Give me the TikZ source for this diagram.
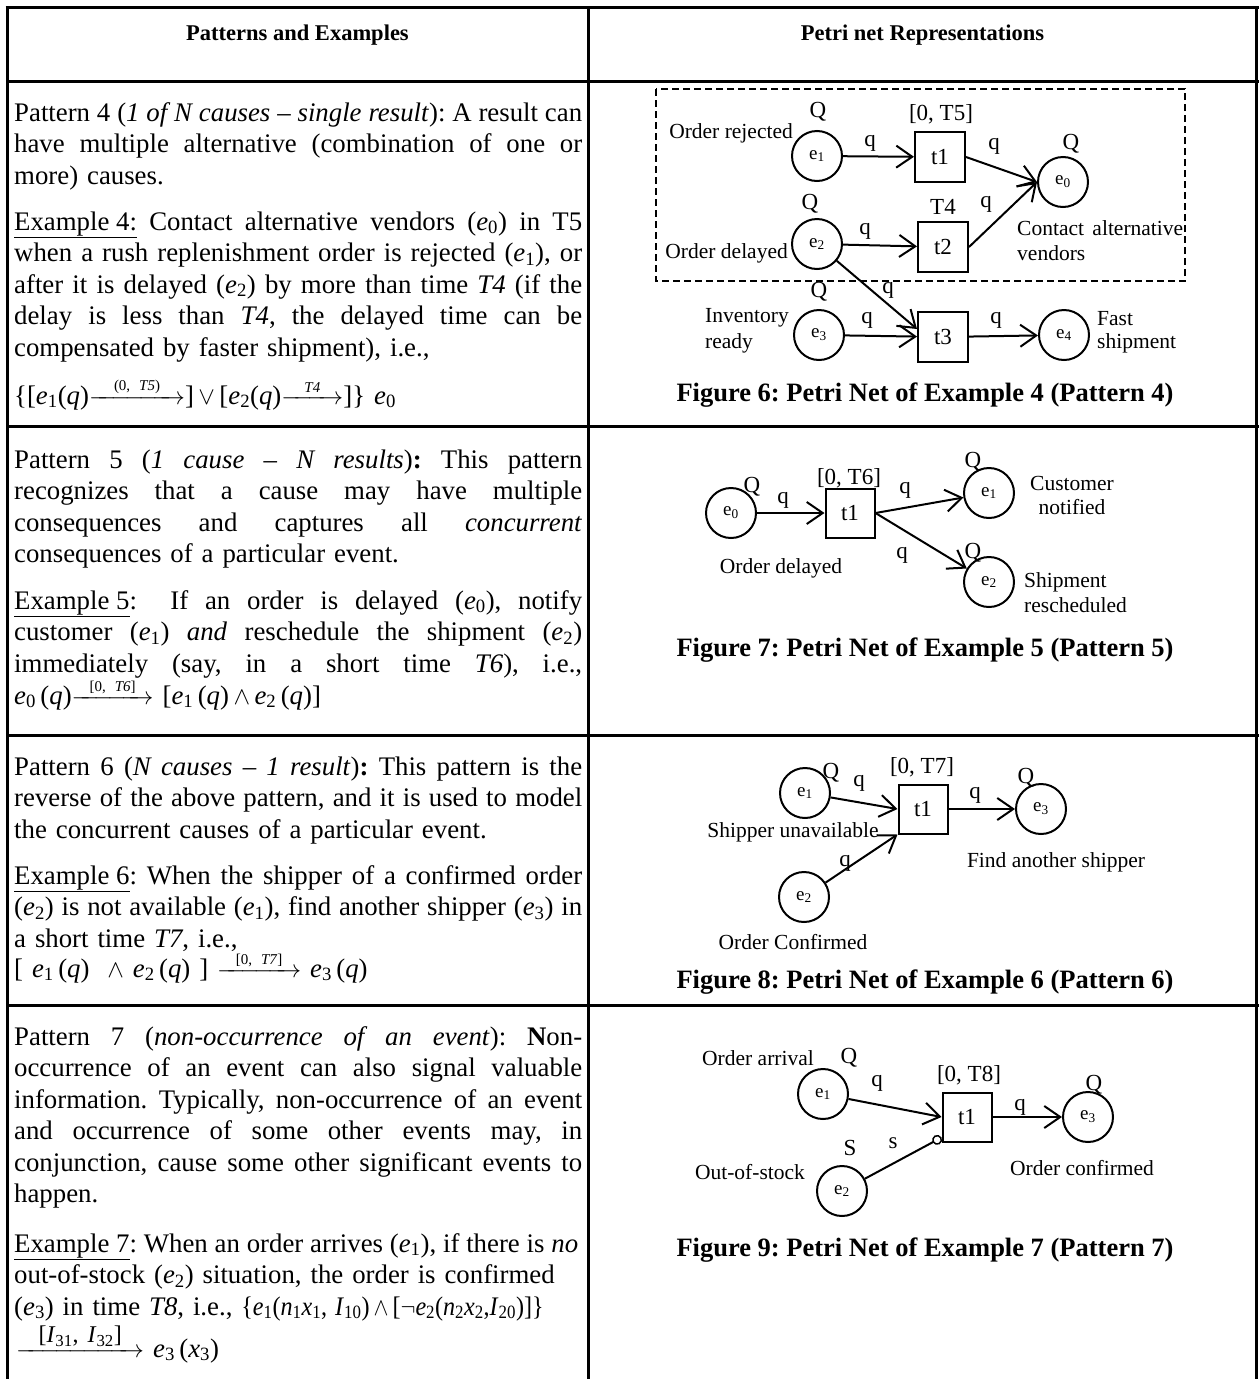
\documentclass[tikz,border=0pt]{standalone}
\usepackage{fontspec}
\setmainfont{Liberation Serif}
\usepackage{graphicx}
\usetikzlibrary{arrows.meta,calc}
\setlength{\parindent}{0pt}
\frenchspacing
\newcommand\ev[1]{\textit{e}\textsubscript{#1}}
\newcommand\pe[1]{e\textsubscript{#1}}
\newcommand\jl[1]{\hbox to 568pt{\spaceskip=.25em plus 1fil minus .12em\relax#1}}
\newcommand\labarr[2]{\ensuremath{\mathrel{\mathop{\hbox to #1{\rightarrowfill}}\limits^{\hbox{\fontsize{15}{15}\selectfont #2}}}}}
\tikzset{
  pnplace/.style={circle, draw, line width=2pt, minimum size=50pt, inner sep=0pt, font=\fontsize{19}{20}\selectfont},
  pntrans/.style={rectangle, draw, line width=2pt, minimum size=49pt, inner sep=0pt, font=\fontsize{23}{24}\selectfont},
  pnarc/.style={line width=2pt, -{Straight Barb[length=16pt,width=22pt]}},
  pninh/.style={line width=2pt, -{Circle[open,length=10pt,width=10pt,line width=1.5pt]}},
  lbl/.style={inner sep=0pt, font=\fontsize{21.5}{24}\selectfont},
  mk/.style={inner sep=0pt, font=\fontsize{23}{24}\selectfont},
  txtbody/.style={anchor=base west, inner sep=0pt, text width=568pt, font=\fontsize{26.8}{31.5}\selectfont},
  figcap/.style={inner sep=0pt, font=\bfseries\fontsize{26.5}{30}\selectfont},
  hdr/.style={inner sep=0pt, font=\bfseries\fontsize{22.5}{26}\selectfont},
  tablerule/.style={line width=3pt},
  dashbox/.style={line width=2pt, dash pattern=on 7pt off 4pt},
}
\begin{document}
\begin{tikzpicture}[x={(1pt,0)}, y={(0,-1pt)}]
\useasboundingbox (0,0) rectangle (1259,1379);
% ---------- table grid ----------
\draw[tablerule] (5.5,7) -- (1259,7);
\draw[tablerule] (7,7) -- (7,1379);
\draw[tablerule] (588,7) -- (588,1379);
\draw[tablerule] (1256.5,7) -- (1256.5,1379);
\draw[tablerule] (7,81) -- (1259,81);
\draw[tablerule] (7,426) -- (1259,426);
\draw[tablerule] (7,735) -- (1259,735);
\draw[tablerule] (7,1005) -- (1259,1005);
% ---------- header ----------
\node[hdr] (h1) at (297.5,35) {Patterns and Examples};
\node[hdr] (h2) at (922.5,35) {Petri net Representations};
% ---------- row 1 text ----------
\node[txtbody] (p4) at (14,121) {\jl{Pattern 4 (\textit{1 of N causes – single result}): A result can}\par
\jl{have multiple alternative (combination of one or}\par
more) causes.};
\node[txtbody] (x4) at (14,230) {\jl{\underline{Example 4:} Contact alternative vendors (\ev0) in T5}\par
\jl{when a rush replenishment order is rejected (\ev1), or}\par
\jl{after it is delayed (\ev2) by more than time \textit{T4} (if the}\par
\jl{delay is less than \textit{T4}, the delayed time can be}\par
compensated by faster shipment), i.e.,};
\node[txtbody] (f4) at (14,404) {\{[\ev1(\textit{q})\labarr{96pt}{(0, \textit{T5})}]\,$\vee$\,[\ev2(\textit{q})\labarr{62pt}{\textit{T4}}]\}~\ev0};
% ---------- row 2 text ----------
\node[txtbody] (p5) at (14,468) {\jl{Pattern 5 (\textit{1 cause – N results})\textbf{:} This pattern}\par
\jl{recognizes that a cause may have multiple}\par
\jl{consequences and captures all \textit{concurrent}}\par
consequences of a particular event.};
\node[txtbody] (x5) at (14,609) {\jl{\underline{Example 5}:\ \ If an order is delayed (\ev0), notify}\par
\jl{customer (\ev1) \textit{and} reschedule the shipment (\ev2)}\par
\jl{immediately (say, in a short time \textit{T6}), i.e.,}};
\node[txtbody] (f5) at (14,704) {\ev0\,(\textit{q})\labarr{82pt}{[0, \textit{T6}]}\ [\ev1\,(\textit{q})\,$\wedge$\,\ev2\,(\textit{q})]};
% ---------- row 3 text ----------
\node[txtbody] (p6) at (14,775) {\jl{Pattern 6 (\textit{N causes – 1 result})\textbf{:} This pattern is the}\par
\jl{reverse of the above pattern, and it is used to model}\par
the concurrent causes of a particular event.};
\node[txtbody] (x6) at (14,884) {\jl{\underline{Example 6}: When the shipper of a confirmed order}\par
\jl{(\ev2) is not available (\ev1), find another shipper (\ev3) in}\par
a short time \textit{T7}, i.e.,};
\node[txtbody] (f6) at (14,977) {[ \ev1\,(\textit{q}) \ $\wedge$\ \ev2\,(\textit{q}) ] \labarr{84pt}{[0, \textit{T7}]} \ev3\,(\textit{q})};
% ---------- row 4 text ----------
\node[txtbody] (p7) at (14,1045) {\jl{Pattern 7 (\textit{non-occurrence of an event}): \textbf{N}on-}\par
\jl{occurrence of an event can also signal valuable}\par
\jl{information. Typically, non-occurrence of an event}\par
\jl{and occurrence of some other events may, in}\par
\jl{conjunction, cause some other significant events to}\par
happen.};
\node[txtbody] (x7) at (14,1252) {\hbox to 564pt{\spaceskip=.25em plus 1fil minus .12em\relax\underline{Example 7}: When an order arrives (\ev1), if there is \textit{no}}\par
out-of-stock (\ev2) situation, the order is confirmed\par
(\ev3) in time \textit{T8}, i.e., \scalebox{0.9}[1]{\{\ev1(\textit{n}\textsubscript{1}\textit{x}\textsubscript{1}, \textit{I}\textsubscript{10})\,$\wedge$\,[$\neg$\ev2(\textit{n}\textsubscript{2}\textit{x}\textsubscript{2},\textit{I}\textsubscript{20})]\}}};
\node[txtbody] (f7) at (16,1357) {\labarr{128pt}{\fontsize{24}{24}\selectfont[\textit{I}\textsubscript{31}, \textit{I}\textsubscript{32}]}~\ev3\,(\textit{x}\textsubscript{3})};
% ---------- Figure 6 ----------
\draw[dashbox] (656,89) rectangle (1185,281);
\node[pnplace] (f6e1) at (817,156) {\pe1};
\node[pntrans, minimum size=50pt] (f6t1) at (940,157) {t1};
\node[pnplace] (f6e0) at (1063,182) {\pe0};
\node[pnplace] (f6e2) at (817,244) {\pe2};
\node[pntrans, minimum size=50pt] (f6t2) at (943,247) {t2};
\node[pnplace] (f6e3) at (819,335) {\pe3};
\node[pntrans, minimum size=50pt] (f6t3) at (943,337) {t3};
\node[pnplace] (f6e4) at (1064,335) {\pe4};
\draw[pnarc] (f6e1) -- (f6t1);
\draw[pnarc] (f6t1.east) -- (f6e0.west);
\draw[pnarc] (f6e2) -- (f6t2);
\draw[pnarc] (f6t2.east) -- (f6e0.west);
\draw[pnarc] (f6e2) -- ($(f6t3.west)+(0,-8)$);
\draw[pnarc] (f6e3) -- (f6t3);
\draw[pnarc] (f6t3) -- (f6e4);
\node[mk] (f6Q1) at (818,112) {Q};
\node[mk] (f6T5) at (941,114) {[0, T5]};
\node[lbl, anchor=east] (f6or) at (793,133) {Order rejected};
\node[mk] (f6q1) at (870,143) {q};
\node[mk] (f6q2) at (994,146) {q};
\node[mk] (f6Q0) at (1071,144) {Q};
\node[mk] (f6Q2) at (810,204) {Q};
\node[mk] (f6T4) at (943,207) {T4};
\node[mk] (f6q3) at (986,204) {q};
\node[lbl, anchor=east] (f6od) at (788,253) {Order delayed};
\node[mk] (f6q4) at (865,231) {q};
\node[lbl, anchor=west] (f6ca) at (1017,228) {\hbox to 166pt{Contact\hfill alternative}};
\node[lbl, anchor=west] (f6v) at (1017,253) {vendors};
\node[mk] (f6q5) at (888,290) {q};
\node[mk] (f6Q3) at (819,292) {Q};
\node[lbl, anchor=west] (f6inv) at (705,318) {Inventory};
\node[lbl, anchor=west] (f6rd) at (705,343) {ready};
\node[mk] (f6q6) at (867,320) {q};
\node[mk] (f6q7) at (996,320) {q};
\node[lbl, anchor=west] (f6fa) at (1097,319) {Fast};
\node[lbl, anchor=west] (f6sh) at (1097,343) {shipment};
\node[figcap] (cap6) at (925,395) {Figure 6: Petri Net of Example 4 (Pattern 4)};
% ---------- Figure 7 ----------
\node[pnplace] (f7e0) at (731,513) {\pe0};
\node[pntrans] (f7t1) at (850,513) {t1};
\node[pnplace] (f7e1) at (989,493) {\pe1};
\node[pnplace] (f7e2) at (989,582) {\pe2};
\draw[pnarc] (f7e0) -- (f7t1);
\draw[pnarc] (f7t1.east) -- (f7e1);
\draw[pnarc] (f7t1.east) -- (f7e2);
\node[mk] (f7Q0) at (752,487) {Q};
\node[mk] (f7q1) at (783,500) {q};
\node[mk] (f7T6) at (849,478) {[0, T6]};
\node[mk] (f7q2) at (905,490) {q};
\node[mk] (f7Q1) at (973,462) {Q};
\node[lbl] (f7cu) at (1072,483) {Customer};
\node[lbl] (f7no) at (1072,507) {notified};
\node[mk] (f7q3) at (902,555) {q};
\node[mk] (f7Q2) at (973,553) {Q};
\node[lbl, anchor=west] (f7sh) at (1024,582) {Shipment};
\node[lbl, anchor=west] (f7re) at (1024,605) {rescheduled};
\node[lbl] (f7od) at (781,568) {Order delayed};
\node[figcap] (cap7) at (925,650) {Figure 7: Petri Net of Example 5 (Pattern 5)};
% ---------- Figure 8 ----------
\node[pnplace] (f8e1) at (805,793) {\pe1};
\node[pntrans] (f8t1) at (923,809) {t1};
\node[pnplace] (f8e3) at (1041,809) {\pe3};
\node[pnplace] (f8e2) at (804,897) {\pe2};
\draw[pnarc] (f8e1) -- (f8t1.west);
\draw[pnarc] (f8e2) -- (f8t1.south west);
\draw[pnarc] (f8t1) -- (f8e3);
\node[mk] (f8Q1) at (831,773) {Q};
\node[mk] (f8q1) at (859,783) {q};
\node[mk] (f8T7) at (922,767) {[0, T7]};
\node[mk] (f8q2) at (975,795) {q};
\node[mk] (f8Q3) at (1026,778) {Q};
\node[lbl] (f8su) at (793,832) {Shipper unavailable};
\node[mk] (f8q3) at (845,863) {q};
\node[lbl] (f8fa) at (1056,862) {Find another shipper};
\node[lbl] (f8oc) at (793,942) {Order Confirmed};
\node[figcap] (cap8) at (925,982) {Figure 8: Petri Net of Example 6 (Pattern 6)};
% ---------- Figure 9 ----------
\node[pnplace] (f9e1) at (823,1094) {\pe1};
\node[pntrans] (f9t1) at (967,1117) {t1};
\node[pnplace] (f9e3) at (1088,1117) {\pe3};
\node[pnplace] (f9e2) at (842,1191) {\pe2};
\draw[pnarc] (f9e1) -- (f9t1.west);
\draw[pnarc] (f9t1) -- (f9e3);
\draw[pninh] (f9e2) -- ($(f9t1.south west)+(0,-5)$);
\node[lbl] (f9oa) at (758,1058) {Order arrival};
\node[mk] (f9Q1) at (849,1058) {Q};
\node[mk] (f9q1) at (877,1083) {q};
\node[mk] (f9T8) at (969,1075) {[0, T8]};
\node[mk] (f9q2) at (1020,1107) {q};
\node[mk] (f9Q3) at (1094,1085) {Q};
\node[mk] (f9S) at (850,1148) {S};
\node[mk] (f9s) at (893,1143) {s};
\node[lbl] (f9os) at (750,1172) {Out-of-stock};
\node[lbl] (f9oc) at (1082,1168) {Order confirmed};
\node[figcap] (cap9) at (925,1250) {Figure 9: Petri Net of Example 7 (Pattern 7)};
\end{tikzpicture}
\end{document}
